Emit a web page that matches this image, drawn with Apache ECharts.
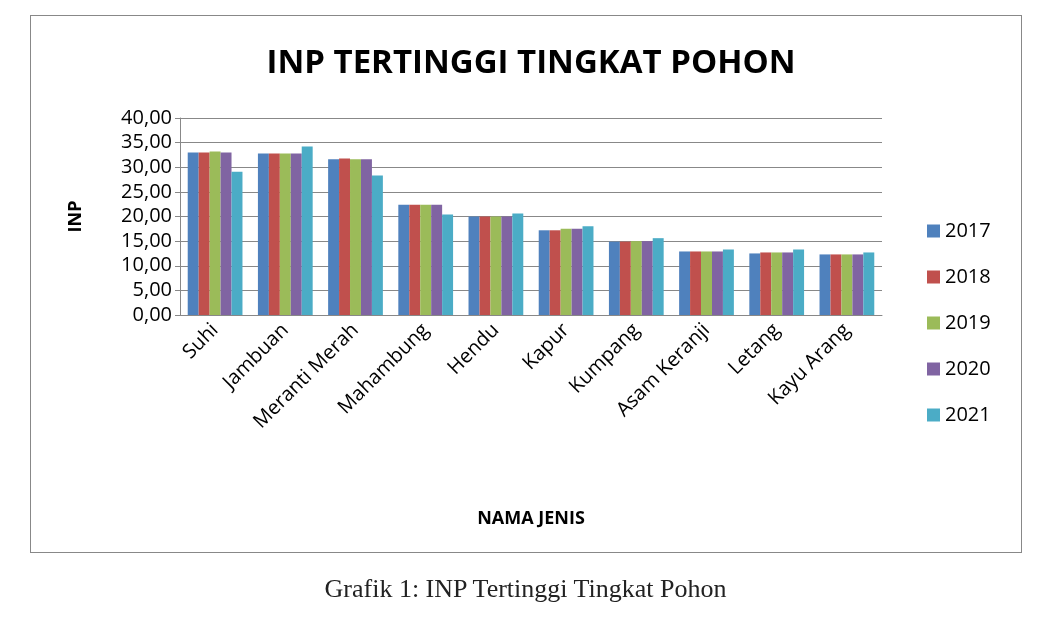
<!DOCTYPE html>
<html><head><meta charset="utf-8">
<script src="https://cdn.jsdelivr.net/npm/echarts@6/dist/echarts.min.js"></script>
<style>
body{margin:0;background:#fff;}
#box{position:absolute;left:30px;top:15px;width:990px;height:536px;border:1.5px solid #888;}
#main{position:absolute;left:0;top:0;width:1051px;height:623px;}
#cap{position:absolute;left:0;width:1051px;top:574px;text-align:center;font-family:"Liberation Serif",serif;font-size:26px;color:#222;}
</style></head>
<body>
<div id="box"></div>
<div id="main"></div>
<div id="cap">Grafik 1: INP Tertinggi Tingkat Pohon</div>
<script>
var categories = ['Suhi', 'Jambuan', 'Meranti Merah', 'Mahambung', 'Hendu', 'Kapur', 'Kumpang', 'Asam Keranji', 'Letang', 'Kayu Arang'];
var years = ['2017', '2018', '2019', '2020', '2021'];
var v2017 = [33.0, 32.8, 31.6, 22.4, 20.0, 17.2, 14.9, 12.9, 12.5, 12.3];
var v2018 = [33.0, 32.8, 31.8, 22.4, 20.0, 17.2, 14.9, 12.9, 12.7, 12.3];
var v2019 = [33.2, 32.8, 31.6, 22.4, 20.0, 17.5, 15.0, 12.9, 12.7, 12.3];
var v2020 = [33.0, 32.8, 31.6, 22.4, 20.0, 17.5, 15.0, 12.9, 12.7, 12.3];
var v2021 = [29.1, 34.2, 28.3, 20.4, 20.6, 18.0, 15.6, 13.3, 13.3, 12.7];
var values = [v2017, v2018, v2019, v2020, v2021];
var colors = ['#4f81bd', '#c0504d', '#9bbb59', '#8064a2', '#4bacc6'];
var font = '"Open Sans", sans-serif';

var option = {
    animation: false,
    color: colors,
    title: {
        text: 'INP TERTINGGI TINGKAT POHON',
        left: 526, top: 42, textAlign: 'center',
        textStyle: { fontFamily: font, fontSize: 33, fontWeight: 'bold', color: '#000' }
    },
    legend: {
        orient: 'vertical', left: 922, top: 216, itemGap: 26,
        itemWidth: 13, itemHeight: 13, icon: 'rect',
        textStyle: { fontFamily: font, fontSize: 20, color: '#000' }
    },
    grid: { left: 180, right: 169, top: 118, bottom: 308, containLabel: false },
    xAxis: {
        type: 'category', data: categories,
        name: 'NAMA JENIS', nameLocation: 'middle', nameGap: 195,
        nameTextStyle: { fontFamily: font, fontSize: 18, fontWeight: 'bold', color: '#000' },
        axisLine: { lineStyle: { color: '#888' } },
        axisTick: { show: false },
        axisLabel: { rotate: 45, fontFamily: font, fontSize: 20, color: '#000', margin: 12, interval: 0 }
    },
    yAxis: {
        type: 'value', min: 0, max: 40, interval: 5,
        name: 'INP', nameLocation: 'middle', nameGap: 95, nameRotate: 90,
        nameTextStyle: { fontFamily: font, fontSize: 18, fontWeight: 'bold', color: '#000' },
        axisLine: { show: true, lineStyle: { color: '#888' } },
        axisTick: { show: true, length: 5, inside: false, lineStyle: { color: '#888' } },
        axisLabel: { fontFamily: font, fontSize: 20, color: '#000', margin: 8,
            formatter: function (v) { return v.toFixed(2).replace('.', ','); } },
        splitLine: { lineStyle: { color: '#888' } }
    },
    series: years.map(function (y, i) {
        return { name: y, type: 'bar', data: values[i], barGap: '0%', barCategoryGap: '22%' };
    })
};
var myChart = echarts.init(document.getElementById('main'));
myChart.setOption(option);
</script>
</body></html>
